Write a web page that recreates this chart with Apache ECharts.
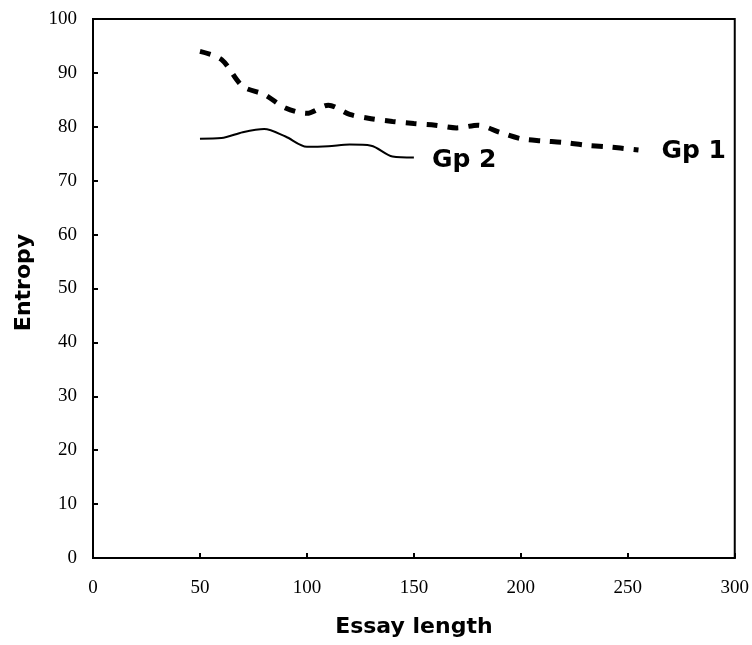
<!DOCTYPE html>
<html>
<head>
<meta charset="utf-8">
<script src="https://cdn.jsdelivr.net/npm/echarts@6/dist/echarts.min.js"></script>
<style>html,body{margin:0;padding:0;background:#fff}#c{width:752px;height:645px}</style>
</head>
<body>
<div id="c"></div>
<script>
const xTicks = [0, 50, 100, 150, 200, 250, 300];
const yTicks = [0, 10, 20, 30, 40, 50, 60, 70, 80, 90, 100];
const gp1X = [50, 60, 70, 80, 90, 100, 110, 120, 130, 140, 150, 160, 170, 180, 190, 200, 210, 220, 230, 240, 255];
const gp1Y = [94, 92.5, 87.5, 86, 83.5, 82.5, 84, 82.3, 81.5, 81, 80.6, 80.3, 79.8, 80.3, 79, 77.8, 77.4, 77.1, 76.6, 76.3, 75.7];
const gp2X = [50, 60, 70, 80, 90, 100, 110, 120, 130, 140, 150];
const gp2Y = [77.8, 77.9, 79, 79.6, 78.2, 76.3, 76.4, 76.7, 76.5, 74.5, 74.3];

const chart = echarts.init(document.getElementById('c'));
const lab = {fontFamily: 'DejaVu Sans', fontWeight: 'bold', fontSize: 25, color: '#000'};
const title = {fontFamily: 'DejaVu Sans', fontWeight: 'bold', fontSize: 22, color: '#000'};
chart.setOption({
  animation: false,
  grid: {left: 93, top: 19, right: 17, bottom: 87, show: true, borderColor: '#000', borderWidth: 2},
  xAxis: {
    type: 'value', min: 0, max: 300, interval: 50,
    name: 'Essay length', nameLocation: 'middle', nameGap: 58,
    nameTextStyle: title,
    axisLine: {lineStyle: {color: '#000', width: 2}},
    axisTick: {inside: true, length: 5, lineStyle: {color: '#000', width: 2}},
    axisLabel: {fontFamily: 'Liberation Serif', fontSize: 19, color: '#000', margin: 21},
    splitLine: {show: false}
  },
  yAxis: {
    type: 'value', min: 0, max: 100, interval: 10,
    name: 'Entropy', nameLocation: 'middle', nameGap: 58,
    nameTextStyle: Object.assign({padding: [0, 0, 0, 12]}, title),
    axisLine: {show: true, lineStyle: {color: '#000', width: 2}},
    axisTick: {show: true, inside: true, length: 5, lineStyle: {color: '#000', width: 2}},
    axisLabel: {fontFamily: 'Liberation Serif', fontSize: 19, color: '#000', margin: 16},
    splitLine: {show: false}
  },
  series: [
    {
      name: 'Gp 1', type: 'line', smooth: 0.3, symbol: 'none',
      data: gp1X.map((x, i) => [x, gp1Y[i]]),
      lineStyle: {color: '#000', width: 5, type: [11, 10]},
      endLabel: Object.assign({show: true, formatter: 'Gp 1', distance: 23, offset: [0, 2]}, lab)
    },
    {
      name: 'Gp 2', type: 'line', smooth: 0.3, symbol: 'none',
      data: gp2X.map((x, i) => [x, gp2Y[i]]),
      lineStyle: {color: '#000', width: 2},
      endLabel: Object.assign({show: true, formatter: 'Gp 2', distance: 18, offset: [0, 3]}, lab)
    }
  ]
});
</script>
</body>
</html>
